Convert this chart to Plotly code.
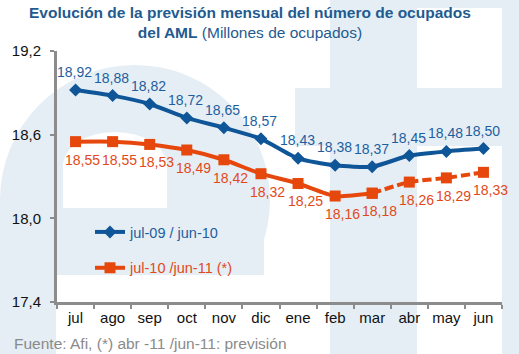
import plotly.graph_objects as go

months = ["jul", "ago", "sep", "oct", "nov", "dic", "ene", "feb", "mar", "abr", "may", "jun"]
serie_0910 = [18.92, 18.88, 18.82, 18.72, 18.65, 18.57, 18.43, 18.38, 18.37, 18.45, 18.48, 18.50]
serie_1011 = [18.55, 18.55, 18.53, 18.49, 18.42, 18.32, 18.25, 18.16, 18.18, 18.26, 18.29, 18.33]
forecast_start = 8  # index of "mar": dashed from here on (previsión)
y_ticks = [17.4, 18.0, 18.6, 19.2]
name_0910 = "jul-09 / jun-10"
name_1011 = "jul-10 /jun-11 (*)"

BLUE = "#0F5698"
BLUE_TXT = "#1E5E9E"
ORANGE = "#E5470C"
ORANGE_TXT = "#E2491A"
WM = "#E5EEF5"
FONT = "Liberation Sans, Arial, sans-serif"

W, H = 519, 354
ML, MR, MT, MB = 57, 17, 51, 52
PW, PH = W - ML - MR, H - MT - MB


def px(x):
    return (x - ML) / PW


def py(y):
    return (H - MB - y) / PH


def fmt(v):
    return f"{v:.2f}".replace(".", ",")


fig = go.Figure()

# blue series
fig.add_trace(go.Scatter(
    x=months, y=serie_0910, mode="lines+markers",
    name=f"<span style='color:{BLUE_TXT}'>{name_0910}</span>",
    line=dict(color=BLUE, width=4, shape="spline", smoothing=0.6),
    marker=dict(symbol="diamond", size=10, color=BLUE),
    legendgroup="a",
))
# orange series: real part
fig.add_trace(go.Scatter(
    x=months[:forecast_start + 1], y=serie_1011[:forecast_start + 1], mode="lines+markers",
    name=f"<span style='color:{ORANGE_TXT}'>{name_1011}</span>",
    line=dict(color=ORANGE, width=4, shape="spline", smoothing=0.6),
    marker=dict(symbol="square", size=11, color=ORANGE),
    legendgroup="b",
))
# orange series: forecast (dashed)
fig.add_trace(go.Scatter(
    x=months[forecast_start:], y=serie_1011[forecast_start:], mode="lines+markers",
    showlegend=False,
    line=dict(color=ORANGE, width=4, dash="9px,4px", shape="spline", smoothing=0.6),
    marker=dict(symbol="square", size=11, color=ORANGE),
    legendgroup="b",
))

annotations = []
for m, v in zip(months, serie_0910):
    annotations.append(dict(x=m, y=v, xref="x", yref="y", text=fmt(v), showarrow=False,
                            yshift=18, xshift=-1, font=dict(family=FONT, size=14, color=BLUE_TXT)))
for m, v in zip(months, serie_1011):
    annotations.append(dict(x=m, y=v, xref="x", yref="y", text=fmt(v), showarrow=False,
                            yshift=-18, xshift=7, font=dict(family=FONT, size=14, color=ORANGE_TXT)))

annotations.append(dict(
    xref="paper", yref="paper", x=px(250), y=py(2), xanchor="center", yanchor="top",
    text="<b>Evolución de la previsión mensual del número de ocupados</b><br><b>del AML</b> (Millones de ocupados)",
    showarrow=False, align="center", font=dict(family=FONT, size=15.5, color="#1F5B90"),
))
annotations.append(dict(
    xref="paper", yref="paper", x=px(12), y=py(343), xanchor="left", yanchor="middle",
    text="Fuente: Afi, (*) abr -11 /jun-11: previsión",
    showarrow=False, font=dict(family=FONT, size=15.5, color="#8A8A8A"),
))

# faint watermark logo in the background
shapes = []


def rect(x0, y0, x1, y1, color):
    shapes.append(dict(type="rect", xref="paper", yref="paper", x0=px(x0), x1=px(x1),
                       y0=py(y1), y1=py(y0), fillcolor=color, line=dict(width=0), layer="below"))


def circ(x0, y0, x1, y1, color):
    shapes.append(dict(type="circle", xref="paper", yref="paper", x0=px(x0), x1=px(x1),
                       y0=py(y1), y1=py(y0), fillcolor=color, line=dict(width=0), layer="below"))


circ(0, 65, 270, 335, WM)
rect(0, 200, 264, 275, WM)
rect(0, 200, 56, 354, WM)
rect(56, 275, 300, 354, "white")
# inner arch of the "a"
rect(63, 165, 167, 208, "white")
circ(63, 132, 167, 200, "white")
# "f"/"t" shapes on the right
rect(330, 0, 417, 354, WM)
rect(295, 88, 519, 146, WM)
rect(330, 0, 519, 8, WM)
rect(502, 0, 519, 354, WM)

fig.update_layout(
    width=W, height=H,
    margin=dict(l=ML, r=MR, t=MT, b=MB),
    paper_bgcolor="white", plot_bgcolor="rgba(0,0,0,0)",
    separators=",.",
    font=dict(family=FONT, size=15, color="#111111"),
    showlegend=True,
    legend=dict(x=px(90), y=py(216), xanchor="left", yanchor="top", bgcolor="rgba(0,0,0,0)",
                font=dict(family=FONT, size=14.5), tracegroupgap=14),
    annotations=annotations,
    shapes=shapes,
    xaxis=dict(type="category", range=[-0.5, 11.5], showgrid=False, zeroline=False,
               showline=True, linecolor="#8C8C8C", linewidth=3, tickangle=0,
               ticks="outside", tickson="boundaries", ticklen=4, tickwidth=2, tickcolor="#8C8C8C",
               tickfont=dict(family=FONT, size=15, color="#111111")),
    yaxis=dict(range=[17.4, 19.2], tickvals=y_ticks, tickformat=".1f", showgrid=False, zeroline=False,
               showline=True, linecolor="#8C8C8C", linewidth=3,
               ticks="outside", ticklen=4, tickwidth=2, tickcolor="#8C8C8C",
               tickfont=dict(family=FONT, size=15, color="#111111"), ticklabelstandoff=6),
)

fig.write_html("out.html")
